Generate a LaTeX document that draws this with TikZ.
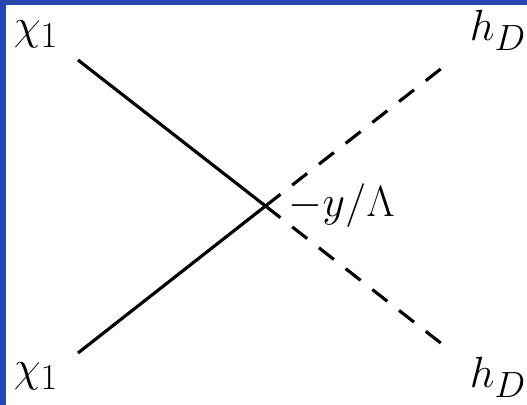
\documentclass[tikz,border=0pt]{standalone}
\usepackage{amsmath}
\usetikzlibrary{positioning}
\definecolor{frameblue}{RGB}{40,70,175}

\begin{document}
\begin{tikzpicture}[x=0.02cm, y=-0.02cm,
  lab/.style={font=\Huge, inner sep=0pt},
  leg/.style={line width=1.8pt},
  sleg/.style={leg, dash pattern=on 10.8pt off 8.5pt}]
% page and frame
\useasboundingbox (0,0) rectangle (527,405);
\fill[frameblue] (0,0) rectangle (527,5.5);
\fill[frameblue] (0,0) rectangle (6,405);
% external particles
\node[lab] (chiA) at (36,34) {$\chi_1$};
\node[lab] (chiB) at (36,376) {$\chi_1$};
\node[lab] (hA) at (498,30) {$h_D$};
\node[lab] (hB) at (498,377) {$h_D$};
\coordinate (v) at (265.5,206);
\node[lab, right=13pt of v] (cpl) {$-y/\Lambda$};
% legs
\coordinate (a1) at (78,60);
\coordinate (a2) at (78,353);
\coordinate (b1) at (442,68);
\coordinate (b2) at (442,344);
\draw[leg] (a1) -- (v);
\draw[leg] (a2) -- (v);
\draw[sleg] (v) -- (b1);
\draw[sleg] (v) -- (b2);
\end{tikzpicture}
\end{document}
